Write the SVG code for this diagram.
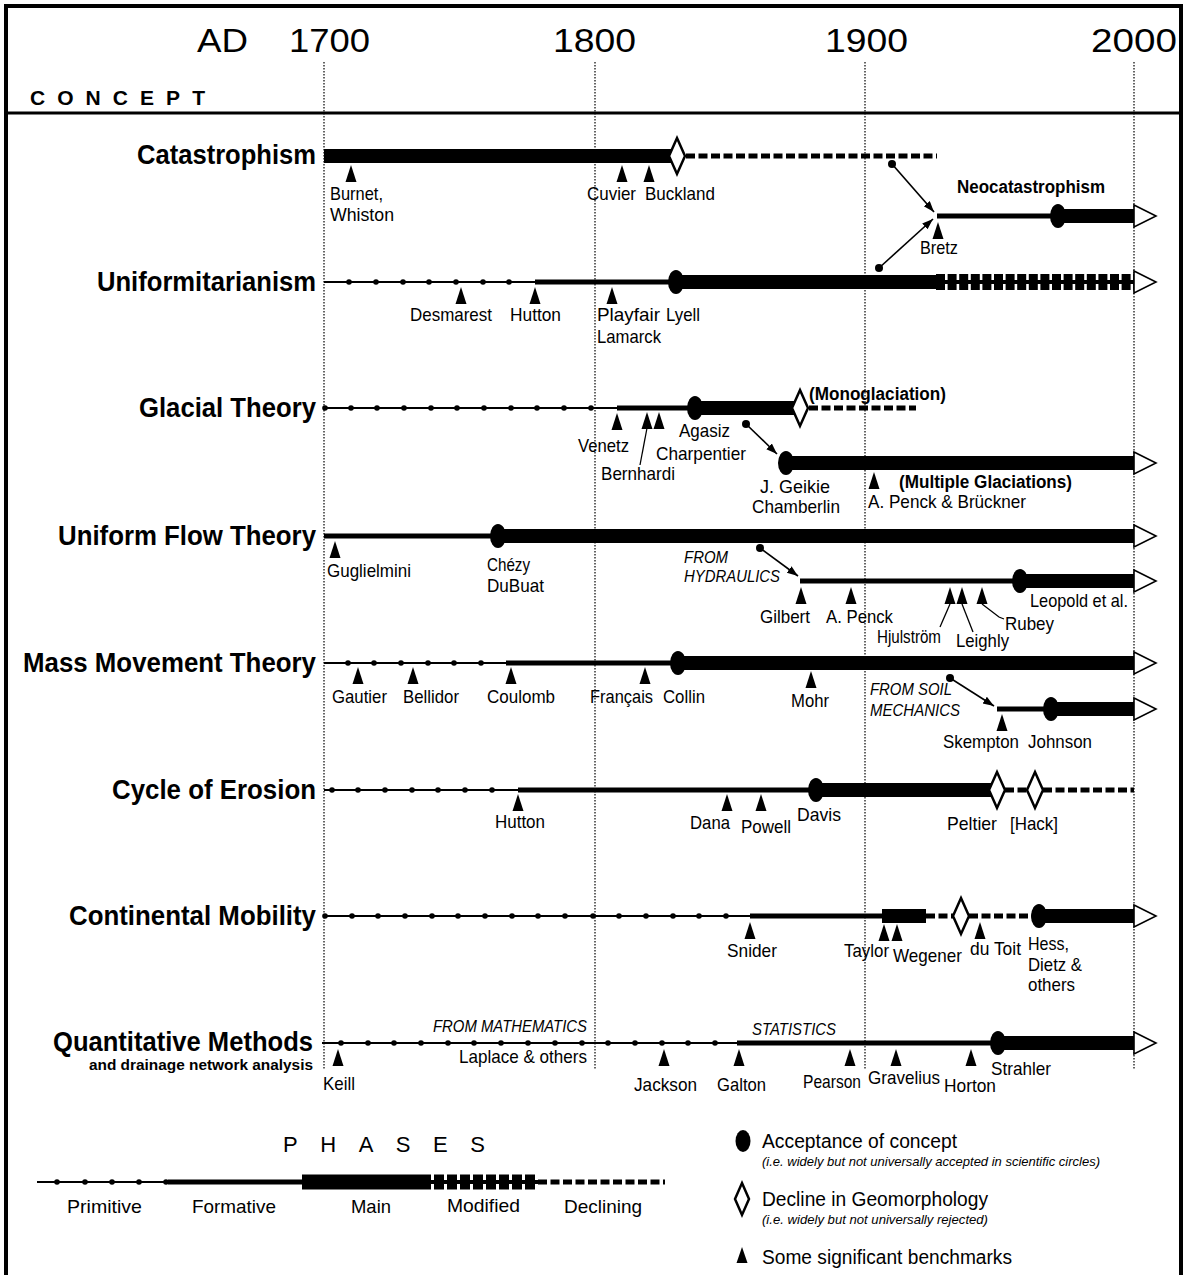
<svg xmlns="http://www.w3.org/2000/svg" width="1186" height="1275" viewBox="0 0 1186 1275">
<style>
text{font-family:"Liberation Sans",Arial,sans-serif;fill:#000}
.yr{font-size:34px}
.hd{font-size:21px;font-weight:bold}
.cl{font-size:28px;font-weight:bold}
.sub{font-size:15px;font-weight:bold}
.nm{font-size:19px}
.bl{font-size:18px;font-weight:bold}
.it{font-size:16px;font-style:italic}
.lg{font-size:20px}
.lgi{font-size:13px;font-style:italic}
.ph{font-size:22px}
.frame{stroke:#000;stroke-width:4;fill:none}
.grid{stroke:#000;stroke-width:1.2;stroke-dasharray:1.5 1.5}
.thin{stroke:#000;stroke-width:2}
.form{stroke:#000;stroke-width:5}
.main{stroke:#000;stroke-width:14}
.modl{stroke:#000;stroke-width:4}
.modb{stroke:#000;stroke-width:16;stroke-dasharray:9 2.6}
.decl{stroke:#000;stroke-width:5;stroke-dasharray:9 3.5}
.pd{fill:#000}
.acc{fill:#000}
.dia{fill:#fff;stroke:#000;stroke-width:2.5}
.ah{fill:#fff;stroke:#000;stroke-width:1.6}
.bm{fill:#000}
.lead{stroke:#000;stroke-width:1.3;fill:none}
.conn{stroke:#000;stroke-width:1.6;fill:none;marker-end:url(#arr)}
</style>
<defs>
<marker id="arr" markerUnits="userSpaceOnUse" markerWidth="12" markerHeight="10" refX="11" refY="4" orient="auto"><path d="M0,0 L11,4 L0,8 Z" fill="#000"/></marker>
<path id="bm" class="bm" d="M0,0 L5.5,17 L-5.5,17 Z"/>
<path id="dm" class="dia" d="M0,-18 L8,0 L0,18 L-8,0 Z"/>
<ellipse id="ac" class="acc" rx="8" ry="12"/>
<path id="ah" class="ah" d="M0,-11 L22,0 L0,11 Z"/>
</defs>
<rect width="1186" height="1275" fill="#fff"/>

<g id="frame">
<line class="frame" x1="6" y1="6" x2="1181" y2="6"/>
<line class="frame" x1="6" y1="4" x2="6" y2="1275"/>
<line class="frame" x1="1181" y1="4" x2="1181" y2="1275"/>
<line stroke="#000" stroke-width="3" x1="6" y1="113" x2="1181" y2="113"/>
</g>

<g id="header">
<text class="yr" x="197" y="52" textLength="51" lengthAdjust="spacingAndGlyphs">AD</text>
<text class="yr" x="289" y="52" textLength="81" lengthAdjust="spacingAndGlyphs">1700</text>
<text class="yr" x="553" y="52" textLength="83" lengthAdjust="spacingAndGlyphs">1800</text>
<text class="yr" x="825" y="52" textLength="83" lengthAdjust="spacingAndGlyphs">1900</text>
<text class="yr" x="1091" y="52" textLength="86" lengthAdjust="spacingAndGlyphs">2000</text>
<text class="hd" x="30" y="105" textLength="175" lengthAdjust="spacing">CONCEPT</text>
</g>

<g id="grid">
<line class="grid" x1="324" y1="62" x2="324" y2="1070"/>
<line class="grid" x1="595" y1="62" x2="595" y2="1070"/>
<line class="grid" x1="865" y1="62" x2="865" y2="1070"/>
<line class="grid" x1="1134" y1="62" x2="1134" y2="1070"/>
</g>

<g id="catastrophism">
<text class="cl" x="137" y="164" textLength="179" lengthAdjust="spacingAndGlyphs">Catastrophism</text>
<line class="main" x1="324" y1="156" x2="672" y2="156"/>
<line class="decl" x1="686" y1="156" x2="937" y2="156"/>
<use href="#dm" x="677" y="156"/>
<use href="#bm" x="351" y="165"/>
<use href="#bm" x="622" y="165"/>
<use href="#bm" x="649" y="165"/>
<text class="nm" x="330" y="200" textLength="53" lengthAdjust="spacingAndGlyphs">Burnet,</text>
<text class="nm" x="330" y="221" textLength="64" lengthAdjust="spacingAndGlyphs">Whiston</text>
<text class="nm" x="587" y="200" textLength="49" lengthAdjust="spacingAndGlyphs">Cuvier</text>
<text class="nm" x="645" y="200" textLength="70" lengthAdjust="spacingAndGlyphs">Buckland</text>
</g>

<g id="neocatastrophism">
<text class="bl" x="957" y="193" textLength="148" lengthAdjust="spacingAndGlyphs">Neocatastrophism</text>
<line class="form" x1="937" y1="216" x2="1058" y2="216"/>
<line class="main" x1="1058" y1="216" x2="1136" y2="216"/>
<use href="#ah" x="1134" y="216"/>
<use href="#ac" x="1058" y="216"/>
<use href="#bm" x="938" y="222"/>
<text class="nm" x="920" y="254" textLength="38" lengthAdjust="spacingAndGlyphs">Bretz</text>
</g>

<g id="uniformitarianism">
<text class="cl" x="97" y="291" textLength="219" lengthAdjust="spacingAndGlyphs">Uniformitarianism</text>
<line class="thin" x1="324" y1="282" x2="535" y2="282"/>
<g class="pd"><circle cx="349" cy="282" r="2.8"/><circle cx="376" cy="282" r="2.8"/><circle cx="403" cy="282" r="2.8"/><circle cx="429" cy="282" r="2.8"/><circle cx="456" cy="282" r="2.8"/><circle cx="483" cy="282" r="2.8"/><circle cx="509" cy="282" r="2.8"/></g>
<line class="form" x1="535" y1="282" x2="676" y2="282"/>
<line class="main" x1="676" y1="282" x2="936" y2="282"/>
<line class="modl" x1="936" y1="282" x2="1136" y2="282"/>
<line class="modb" x1="936" y1="282" x2="1136" y2="282"/>
<use href="#ah" x="1134" y="282"/>
<use href="#ac" x="676" y="282"/>
<use href="#bm" x="461" y="287"/>
<use href="#bm" x="535" y="287"/>
<use href="#bm" x="612" y="287"/>
<text class="nm" x="410" y="321" textLength="82" lengthAdjust="spacingAndGlyphs">Desmarest</text>
<text class="nm" x="510" y="321" textLength="51" lengthAdjust="spacingAndGlyphs">Hutton</text>
<text class="nm" x="597" y="321" textLength="63" lengthAdjust="spacingAndGlyphs">Playfair</text>
<text class="nm" x="597" y="343" textLength="64" lengthAdjust="spacingAndGlyphs">Lamarck</text>
<text class="nm" x="666" y="321" textLength="34" lengthAdjust="spacingAndGlyphs">Lyell</text>
</g>

<g id="glacial-theory">
<text class="cl" x="139" y="417" textLength="177" lengthAdjust="spacingAndGlyphs">Glacial Theory</text>
<line class="thin" x1="324" y1="408" x2="617" y2="408"/>
<g class="pd"><circle cx="325" cy="408" r="2.8"/><circle cx="351" cy="408" r="2.8"/><circle cx="377" cy="408" r="2.8"/><circle cx="404" cy="408" r="2.8"/><circle cx="431" cy="408" r="2.8"/><circle cx="457" cy="408" r="2.8"/><circle cx="484" cy="408" r="2.8"/><circle cx="511" cy="408" r="2.8"/><circle cx="537" cy="408" r="2.8"/><circle cx="564" cy="408" r="2.8"/><circle cx="591" cy="408" r="2.8"/></g>
<line class="form" x1="617" y1="408" x2="695" y2="408"/>
<line class="main" x1="695" y1="408" x2="795" y2="408"/>
<line class="decl" x1="809" y1="408" x2="916" y2="408"/>
<use href="#dm" x="800" y="408"/>
<use href="#ac" x="695" y="408"/>
<use href="#bm" x="617" y="413"/>
<use href="#bm" x="647" y="412"/>
<use href="#bm" x="659" y="412"/>
<line class="lead" x1="647" y1="428" x2="640" y2="465"/>
<text class="bl" x="809" y="400" textLength="137" lengthAdjust="spacingAndGlyphs">(Monoglaciation)</text>
<text class="nm" x="578" y="452" textLength="51" lengthAdjust="spacingAndGlyphs">Venetz</text>
<text class="nm" x="679" y="437" textLength="51" lengthAdjust="spacingAndGlyphs">Agasiz</text>
<text class="nm" x="656" y="460" textLength="90" lengthAdjust="spacingAndGlyphs">Charpentier</text>
<text class="nm" x="601" y="480" textLength="74" lengthAdjust="spacingAndGlyphs">Bernhardi</text>
</g>

<g id="multiple-glaciations">
<line class="main" x1="786" y1="463" x2="1136" y2="463"/>
<use href="#ah" x="1134" y="463"/>
<use href="#ac" x="786" y="463"/>
<use href="#bm" x="874" y="472"/>
<text class="bl" x="899" y="488" textLength="173" lengthAdjust="spacingAndGlyphs">(Multiple Glaciations)</text>
<text class="nm" x="760" y="493" textLength="70" lengthAdjust="spacingAndGlyphs">J. Geikie</text>
<text class="nm" x="752" y="513" textLength="88" lengthAdjust="spacingAndGlyphs">Chamberlin</text>
<text class="nm" x="868" y="508" textLength="158" lengthAdjust="spacingAndGlyphs">A. Penck &amp; Brückner</text>
</g>

<g id="uniform-flow-theory">
<text class="cl" x="58" y="545" textLength="258" lengthAdjust="spacingAndGlyphs">Uniform Flow Theory</text>
<line class="form" x1="324" y1="536" x2="498" y2="536"/>
<line class="main" x1="498" y1="536" x2="1136" y2="536"/>
<use href="#ah" x="1134" y="536"/>
<use href="#ac" x="498" y="536"/>
<use href="#bm" x="335" y="541"/>
<text class="nm" x="327" y="577" textLength="84" lengthAdjust="spacingAndGlyphs">Guglielmini</text>
<text class="nm" x="487" y="571" textLength="43" lengthAdjust="spacingAndGlyphs">Chézy</text>
<text class="nm" x="487" y="592" textLength="57" lengthAdjust="spacingAndGlyphs">DuBuat</text>
<text class="it" x="684" y="563" textLength="44" lengthAdjust="spacingAndGlyphs">FROM</text>
<text class="it" x="684" y="582" textLength="96" lengthAdjust="spacingAndGlyphs">HYDRAULICS</text>
</g>

<g id="hydraulics-branch">
<line class="form" x1="800" y1="581" x2="1020" y2="581"/>
<line class="main" x1="1020" y1="581" x2="1136" y2="581"/>
<use href="#ah" x="1134" y="581"/>
<use href="#ac" x="1020" y="581"/>
<use href="#bm" x="801" y="587"/>
<use href="#bm" x="851" y="587"/>
<use href="#bm" x="950" y="587"/>
<use href="#bm" x="962" y="587"/>
<use href="#bm" x="982" y="587"/>
<line class="lead" x1="950" y1="604" x2="940" y2="627"/>
<line class="lead" x1="962" y1="604" x2="973" y2="632"/>
<polyline class="lead" points="982,604 999,617 1004,619"/>
<text class="nm" x="760" y="623" textLength="50" lengthAdjust="spacingAndGlyphs">Gilbert</text>
<text class="nm" x="826" y="623" textLength="67" lengthAdjust="spacingAndGlyphs">A. Penck</text>
<text class="nm" x="877" y="643" textLength="64" lengthAdjust="spacingAndGlyphs">Hjulström</text>
<text class="nm" x="956" y="647" textLength="53" lengthAdjust="spacingAndGlyphs">Leighly</text>
<text class="nm" x="1005" y="630" textLength="49" lengthAdjust="spacingAndGlyphs">Rubey</text>
<text class="nm" x="1030" y="607" textLength="98" lengthAdjust="spacingAndGlyphs">Leopold et al.</text>
</g>

<g id="mass-movement-theory">
<text class="cl" x="23" y="672" textLength="293" lengthAdjust="spacingAndGlyphs">Mass Movement Theory</text>
<line class="thin" x1="324" y1="663" x2="506" y2="663"/>
<g class="pd"><circle cx="348" cy="663" r="2.8"/><circle cx="374" cy="663" r="2.8"/><circle cx="401" cy="663" r="2.8"/><circle cx="428" cy="663" r="2.8"/><circle cx="454" cy="663" r="2.8"/><circle cx="481" cy="663" r="2.8"/></g>
<line class="form" x1="506" y1="663" x2="678" y2="663"/>
<line class="main" x1="678" y1="663" x2="1136" y2="663"/>
<use href="#ah" x="1134" y="663"/>
<use href="#ac" x="678" y="663"/>
<use href="#bm" x="358" y="667"/>
<use href="#bm" x="413" y="667"/>
<use href="#bm" x="511" y="667"/>
<use href="#bm" x="645" y="667"/>
<use href="#bm" x="811" y="671"/>
<text class="nm" x="332" y="703" textLength="55" lengthAdjust="spacingAndGlyphs">Gautier</text>
<text class="nm" x="403" y="703" textLength="56" lengthAdjust="spacingAndGlyphs">Bellidor</text>
<text class="nm" x="487" y="703" textLength="68" lengthAdjust="spacingAndGlyphs">Coulomb</text>
<text class="nm" x="590" y="703" textLength="63" lengthAdjust="spacingAndGlyphs">Français</text>
<text class="nm" x="663" y="703" textLength="42" lengthAdjust="spacingAndGlyphs">Collin</text>
<text class="nm" x="791" y="707" textLength="38" lengthAdjust="spacingAndGlyphs">Mohr</text>
<text class="it" x="870" y="695" textLength="82" lengthAdjust="spacingAndGlyphs">FROM SOIL</text>
<text class="it" x="870" y="716" textLength="90" lengthAdjust="spacingAndGlyphs">MECHANICS</text>
</g>

<g id="soil-mechanics-branch">
<line class="form" x1="997" y1="709" x2="1051" y2="709"/>
<line class="main" x1="1051" y1="709" x2="1136" y2="709"/>
<use href="#ah" x="1134" y="709"/>
<use href="#ac" x="1051" y="709"/>
<use href="#bm" x="1002" y="714"/>
<text class="nm" x="943" y="748" textLength="76" lengthAdjust="spacingAndGlyphs">Skempton</text>
<text class="nm" x="1028" y="748" textLength="64" lengthAdjust="spacingAndGlyphs">Johnson</text>
</g>

<g id="cycle-of-erosion">
<text class="cl" x="112" y="799" textLength="204" lengthAdjust="spacingAndGlyphs">Cycle of Erosion</text>
<line class="thin" x1="324" y1="790" x2="518" y2="790"/>
<g class="pd"><circle cx="332" cy="790" r="2.8"/><circle cx="358" cy="790" r="2.8"/><circle cx="385" cy="790" r="2.8"/><circle cx="412" cy="790" r="2.8"/><circle cx="438" cy="790" r="2.8"/><circle cx="465" cy="790" r="2.8"/><circle cx="492" cy="790" r="2.8"/></g>
<line class="form" x1="518" y1="790" x2="816" y2="790"/>
<line class="main" x1="816" y1="790" x2="992" y2="790"/>
<line class="decl" x1="1005" y1="790" x2="1028" y2="790"/>
<line class="decl" x1="1043" y1="790" x2="1134" y2="790"/>
<use href="#dm" x="997" y="790"/>
<use href="#dm" x="1035" y="790"/>
<use href="#ac" x="816" y="790"/>
<use href="#bm" x="518" y="794"/>
<use href="#bm" x="727" y="794"/>
<use href="#bm" x="761" y="794"/>
<text class="nm" x="495" y="828" textLength="50" lengthAdjust="spacingAndGlyphs">Hutton</text>
<text class="nm" x="690" y="829" textLength="40" lengthAdjust="spacingAndGlyphs">Dana</text>
<text class="nm" x="741" y="833" textLength="50" lengthAdjust="spacingAndGlyphs">Powell</text>
<text class="nm" x="797" y="821" textLength="44" lengthAdjust="spacingAndGlyphs">Davis</text>
<text class="nm" x="947" y="830" textLength="50" lengthAdjust="spacingAndGlyphs">Peltier</text>
<text class="nm" x="1010" y="830" textLength="48" lengthAdjust="spacingAndGlyphs">[Hack]</text>
</g>

<g id="continental-mobility">
<text class="cl" x="69" y="925" textLength="247" lengthAdjust="spacingAndGlyphs">Continental Mobility</text>
<line class="thin" x1="324" y1="916" x2="750" y2="916"/>
<g class="pd"><circle cx="325" cy="916" r="2.8"/><circle cx="352" cy="916" r="2.8"/><circle cx="378" cy="916" r="2.8"/><circle cx="405" cy="916" r="2.8"/><circle cx="432" cy="916" r="2.8"/><circle cx="458" cy="916" r="2.8"/><circle cx="485" cy="916" r="2.8"/><circle cx="512" cy="916" r="2.8"/><circle cx="538" cy="916" r="2.8"/><circle cx="565" cy="916" r="2.8"/><circle cx="593" cy="916" r="2.8"/><circle cx="619" cy="916" r="2.8"/><circle cx="646" cy="916" r="2.8"/><circle cx="673" cy="916" r="2.8"/><circle cx="699" cy="916" r="2.8"/><circle cx="726" cy="916" r="2.8"/></g>
<line class="form" x1="750" y1="916" x2="882" y2="916"/>
<line class="main" x1="882" y1="916" x2="926" y2="916"/>
<line class="decl" x1="926" y1="916" x2="954" y2="916"/>
<line class="decl" x1="969" y1="916" x2="1032" y2="916"/>
<line class="main" x1="1039" y1="916" x2="1136" y2="916"/>
<use href="#ah" x="1134" y="916"/>
<use href="#dm" x="961" y="916"/>
<use href="#ac" x="1039" y="916"/>
<use href="#bm" x="750" y="922"/>
<use href="#bm" x="884" y="924"/>
<use href="#bm" x="897" y="924"/>
<use href="#bm" x="980" y="922"/>
<text class="nm" x="727" y="957" textLength="50" lengthAdjust="spacingAndGlyphs">Snider</text>
<text class="nm" x="844" y="957" textLength="45" lengthAdjust="spacingAndGlyphs">Taylor</text>
<text class="nm" x="893" y="962" textLength="69" lengthAdjust="spacingAndGlyphs">Wegener</text>
<text class="nm" x="970" y="955" textLength="51" lengthAdjust="spacingAndGlyphs">du Toit</text>
<text class="nm" x="1028" y="950" textLength="41" lengthAdjust="spacingAndGlyphs">Hess,</text>
<text class="nm" x="1028" y="971" textLength="54" lengthAdjust="spacingAndGlyphs">Dietz &amp;</text>
<text class="nm" x="1028" y="991" textLength="47" lengthAdjust="spacingAndGlyphs">others</text>
</g>

<g id="quantitative-methods">
<text class="cl" x="53" y="1051" textLength="260" lengthAdjust="spacingAndGlyphs">Quantitative Methods</text>
<text class="sub" x="89" y="1070" textLength="224" lengthAdjust="spacingAndGlyphs">and drainage network analysis</text>
<line class="thin" x1="322" y1="1043" x2="738" y2="1043"/>
<g class="pd"><circle cx="341" cy="1043" r="2.8"/><circle cx="368" cy="1043" r="2.8"/><circle cx="394" cy="1043" r="2.8"/><circle cx="421" cy="1043" r="2.8"/><circle cx="448" cy="1043" r="2.8"/><circle cx="474" cy="1043" r="2.8"/><circle cx="501" cy="1043" r="2.8"/><circle cx="528" cy="1043" r="2.8"/><circle cx="555" cy="1043" r="2.8"/><circle cx="582" cy="1043" r="2.8"/><circle cx="608" cy="1043" r="2.8"/><circle cx="635" cy="1043" r="2.8"/><circle cx="662" cy="1043" r="2.8"/><circle cx="688" cy="1043" r="2.8"/><circle cx="715" cy="1043" r="2.8"/></g>
<line class="form" x1="737" y1="1043" x2="998" y2="1043"/>
<line class="main" x1="998" y1="1043" x2="1136" y2="1043"/>
<use href="#ah" x="1134" y="1043"/>
<use href="#ac" x="998" y="1043"/>
<use href="#bm" x="338" y="1049"/>
<use href="#bm" x="664" y="1049"/>
<use href="#bm" x="739" y="1049"/>
<use href="#bm" x="850" y="1049"/>
<use href="#bm" x="896" y="1049"/>
<use href="#bm" x="971" y="1049"/>
<text class="it" x="433" y="1032" textLength="154" lengthAdjust="spacingAndGlyphs">FROM MATHEMATICS</text>
<text class="nm" x="459" y="1063" textLength="128" lengthAdjust="spacingAndGlyphs">Laplace &amp; others</text>
<text class="it" x="752" y="1035" textLength="84" lengthAdjust="spacingAndGlyphs">STATISTICS</text>
<text class="nm" x="323" y="1090" textLength="32" lengthAdjust="spacingAndGlyphs">Keill</text>
<text class="nm" x="634" y="1091" textLength="63" lengthAdjust="spacingAndGlyphs">Jackson</text>
<text class="nm" x="717" y="1091" textLength="49" lengthAdjust="spacingAndGlyphs">Galton</text>
<text class="nm" x="803" y="1088" textLength="58" lengthAdjust="spacingAndGlyphs">Pearson</text>
<text class="nm" x="868" y="1084" textLength="72" lengthAdjust="spacingAndGlyphs">Gravelius</text>
<text class="nm" x="944" y="1092" textLength="52" lengthAdjust="spacingAndGlyphs">Horton</text>
<text class="nm" x="991" y="1075" textLength="60" lengthAdjust="spacingAndGlyphs">Strahler</text>
</g>

<g id="connectors">
<circle cx="892" cy="164" r="4" fill="#000"/>
<line class="conn" x1="892" y1="164" x2="934" y2="212"/>
<circle cx="879" cy="268" r="4" fill="#000"/>
<line class="conn" x1="879" y1="268" x2="933" y2="219"/>
<circle cx="746" cy="424" r="4" fill="#000"/>
<line class="conn" x1="746" y1="424" x2="777" y2="454"/>
<circle cx="760" cy="548" r="4" fill="#000"/>
<line class="conn" x1="760" y1="548" x2="798" y2="576"/>
<circle cx="950" cy="678" r="4" fill="#000"/>
<line class="conn" x1="950" y1="678" x2="994" y2="706"/>
</g>

<g id="legend-phases">
<text class="ph" x="283" y="1152" textLength="202" lengthAdjust="spacing">PHASES</text>
<line class="thin" x1="37" y1="1182" x2="170" y2="1182"/>
<g class="pd"><circle cx="57" cy="1182" r="2.8"/><circle cx="85" cy="1182" r="2.8"/><circle cx="112" cy="1182" r="2.8"/><circle cx="139" cy="1182" r="2.8"/><circle cx="166" cy="1182" r="2.8"/></g>
<line class="form" x1="168" y1="1182" x2="302" y2="1182"/>
<line stroke="#000" stroke-width="15" x1="302" y1="1182" x2="431" y2="1182"/>
<line class="modl" x1="431" y1="1182" x2="538" y2="1182"/>
<line stroke="#000" stroke-width="15" stroke-dasharray="10 3" x1="434" y1="1182" x2="538" y2="1182"/>
<line class="decl" x1="538" y1="1182" x2="665" y2="1182"/>
<text class="nm" x="67" y="1213" textLength="75" lengthAdjust="spacingAndGlyphs">Primitive</text>
<text class="nm" x="192" y="1213" textLength="84" lengthAdjust="spacingAndGlyphs">Formative</text>
<text class="nm" x="351" y="1213" textLength="40" lengthAdjust="spacingAndGlyphs">Main</text>
<text class="nm" x="447" y="1212" textLength="73" lengthAdjust="spacingAndGlyphs">Modified</text>
<text class="nm" x="564" y="1213" textLength="78" lengthAdjust="spacingAndGlyphs">Declining</text>
</g>

<g id="legend-symbols">
<ellipse class="acc" cx="743" cy="1141" rx="7.5" ry="11"/>
<text class="lg" x="762" y="1148" textLength="195" lengthAdjust="spacingAndGlyphs">Acceptance of concept</text>
<text class="lgi" x="762" y="1166" textLength="338" lengthAdjust="spacingAndGlyphs">(i.e. widely but not universally accepted in scientific circles)</text>
<path class="dia" d="M742,1183 L749,1199 L742,1215 L735,1199 Z"/>
<text class="lg" x="762" y="1206" textLength="226" lengthAdjust="spacingAndGlyphs">Decline in Geomorphology</text>
<text class="lgi" x="762" y="1224" textLength="226" lengthAdjust="spacingAndGlyphs">(i.e. widely but not universally rejected)</text>
<path class="bm" d="M742,1247 L747.5,1263 L736.5,1263 Z"/>
<text class="lg" x="762" y="1264" textLength="250" lengthAdjust="spacingAndGlyphs">Some significant benchmarks</text>
</g>
</svg>
